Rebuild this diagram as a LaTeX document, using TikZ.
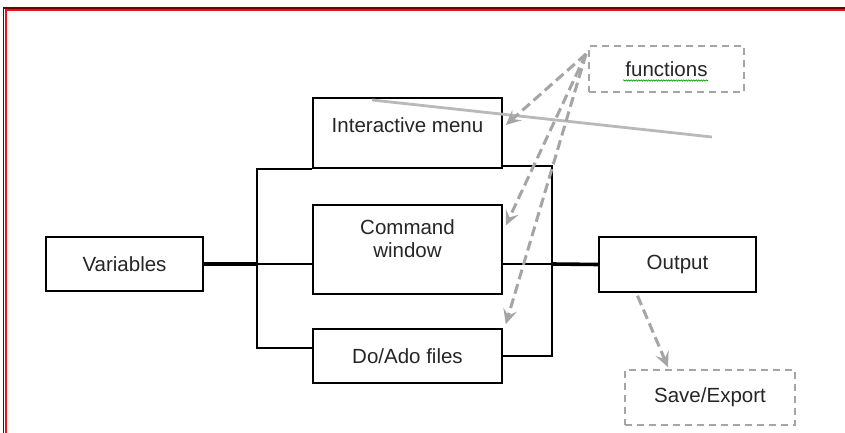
\documentclass[tikz,border=0pt]{standalone}
\usepackage{fontspec}
\setmainfont{Liberation Sans}
\usepackage{tikz}
\usetikzlibrary{positioning,calc,arrows.meta,decorations.pathmorphing}
\definecolor{framered}{RGB}{230, 20, 20}
\definecolor{linkgray}{RGB}{165, 165, 165}

\begin{document}
\begin{tikzpicture}[
    x=1pt, y=-1pt,
    box/.style={rectangle, draw, line width=1.6pt, align=center, font=\fontsize{20.5}{23.5}\selectfont, text=black!85},
    dbox/.style={rectangle, draw=linkgray, dash pattern=on 7pt off 5pt, line width=1.6pt, align=center, font=\fontsize{20.5}{23.5}\selectfont, text=black!85},
    wire/.style={line width=1.6pt},
    busline/.style={line width=3.6pt},
    link/.style={-{Stealth[length=15pt, width=14pt, inset=6pt]}, linkgray, line width=3pt, dash pattern=on 10pt off 5pt}
]
    \useasboundingbox (0,0) rectangle (845,433);
    \fill[white] (0,0) rectangle (845,433);

    % Frame
    \draw[red!45!black, line width=1.5pt] (3.5,433) -- (3.5,8) -- (845,8);
    \draw[framered, line width=1.8pt] (5.8,433) -- (5.8,10.2) -- (845,10.2);

    % Boxes
    \node[box, minimum width=157pt, minimum height=54pt] (var) at (124.5,264) {Variables};
    \node[box, minimum width=189pt, minimum height=70pt, text height=14pt, text depth=16pt] (menu) at (407.5,133) {Interactive menu};
    \node[box, minimum width=189pt, minimum height=89pt, text depth=22pt] (cmd) at (407.5,249.5) {Command\\window};
    \node[box, minimum width=189pt, minimum height=54pt] (doado) at (407.5,356) {Do/Ado files};
    \node[box, minimum width=157pt, minimum height=55pt] (out) at (677.5,264.5) {Output};

    % Dashed boxes
    \node[dbox, minimum width=155pt, minimum height=46pt] (func) at (666.5,69) {functions};
    \node[dbox, minimum width=170pt, minimum height=55pt] (save) at (710,397.5) {Save/Export};
    \draw[green!60!black, line width=0.6pt, decorate, decoration={snake, amplitude=0.7pt, segment length=2.5pt}]
        (623,80.5) -- (708,80.5);

    % Junctions
    \coordinate (jl) at (258,264);
    \coordinate (jr) at (552,264);

    % Left bus
    \draw[busline] (var.east) -- (jl);
    \draw[wire] (menu.south west) -- ++(-55,0) |- ([yshift=8pt]doado.west);
    \draw[wire] (jl) -- (jl -| cmd.west);

    % Right bus
    \draw[wire] ([yshift=3pt]menu.south east) -| (jr) |- (doado.east);
    \draw[wire] (jr -| cmd.east) -- (jr);
    \draw[busline] (jr) -- (out.west);

    % Stray line
    \draw[gray!55, line width=2.8pt] (372,100) -- (712,137);

    % Function links
    \coordinate (fsrc) at (586,54);
    \draw[link] (fsrc) -- ([xshift=3pt, yshift=8pt]menu.east);
    \draw[link] (fsrc) -- ([xshift=3pt, yshift=24pt]cmd.east);
    \draw[link] (fsrc) -- ([xshift=3pt, yshift=4pt]doado.north east);
    \draw[link] ([xshift=-40pt, yshift=-3pt]out.south) -- ([xshift=-42pt, yshift=2pt]save.north);
\end{tikzpicture}
\end{document}
